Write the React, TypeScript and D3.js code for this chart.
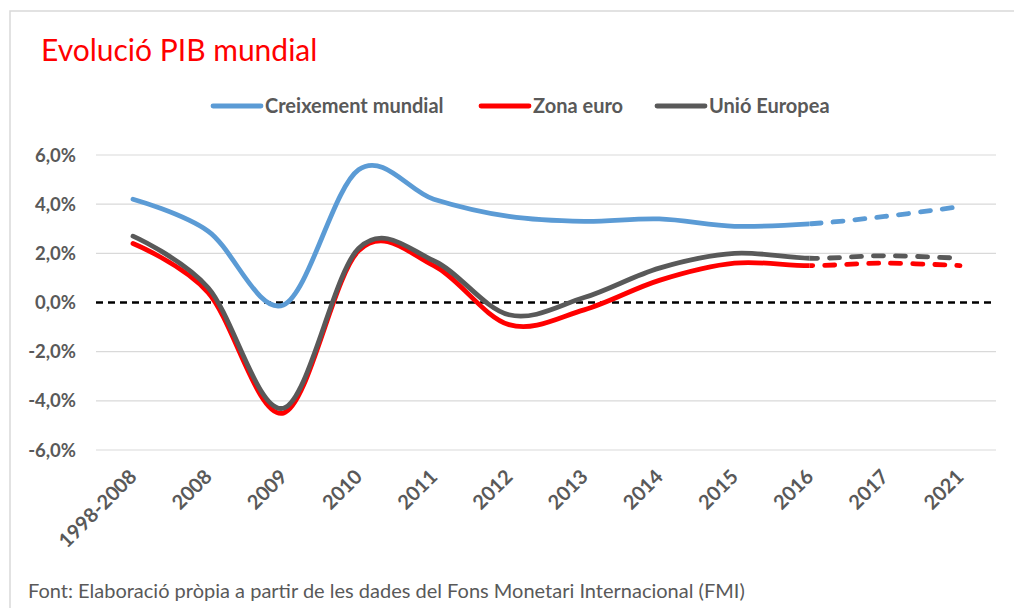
import { useEffect, useRef } from "react";
import * as d3 from "d3";

const categories = ["1998-2008", "2008", "2009", "2010", "2011", "2012", "2013", "2014", "2015", "2016", "2017", "2021"];
const mundial = [4.2, 2.9, -0.1, 5.4, 4.2, 3.5, 3.3, 3.4, 3.1, 3.2, 3.5, 3.9];
const zonaEuro = [2.4, 0.4, -4.5, 2.1, 1.5, -0.9, -0.3, 0.9, 1.6, 1.5, 1.6, 1.5];
const ue = [2.7, 0.6, -4.3, 2.2, 1.7, -0.5, 0.2, 1.4, 2.0, 1.8, 1.9, 1.8];
const yTicks = [-6, -4, -2, 0, 2, 4, 6];
const forecastFrom = "2016";

const series = [
  { name: "Creixement mundial", values: mundial, color: "#5B9BD5" },
  { name: "Zona euro", values: zonaEuro, color: "#FF0000" },
  { name: "Unió Europea", values: ue, color: "#595959" },
];

const W = 1014, H = 608;
const FONT = "Lato, 'Open Sans', sans-serif";

export default function App() {
  const ref = useRef<SVGSVGElement>(null);

  useEffect(() => {
    const svg = d3.select(ref.current);
    svg.selectAll("*").remove();

    // frame (right and bottom edges fall outside the picture)
    svg.append("rect").attr("x", 10).attr("y", 11).attr("width", 1030).attr("height", 640)
      .attr("fill", "#fff").attr("stroke", "#D9D9D9").attr("stroke-width", 1.5);

    svg.append("text").attr("x", 41).attr("y", 61).text("Evolució PIB mundial")
      .attr("font-family", FONT).attr("font-size", 30).attr("fill", "#FF0000");

    const x = d3.scalePoint().domain(categories).range([133, 960]);
    const y = d3.scaleLinear().domain([-6, 6]).range([450, 155]);
    const left = 96, right = 996;

    // grid
    svg.append("g").selectAll("line").data(yTicks.filter(v => v !== 0)).join("line")
      .attr("x1", left).attr("x2", right)
      .attr("y1", d => y(d)).attr("y2", d => y(d))
      .attr("stroke", "#D9D9D9").attr("stroke-width", 1.2);

    // y labels
    svg.append("g").selectAll("text").data(yTicks).join("text")
      .attr("x", 76).attr("y", d => y(d) + 6.5).attr("text-anchor", "end")
      .attr("font-family", FONT).attr("font-weight", "bold").attr("font-size", 18.5).attr("fill", "#595959")
      .text(d => d3.format(".1f")(d).replace(".", ",").replace("−", "-") + "%");

    // zero line
    svg.append("line").attr("x1", left).attr("x2", right).attr("y1", y(0)).attr("y2", y(0))
      .attr("stroke", "#000").attr("stroke-width", 2.5).attr("stroke-dasharray", "7 5");

    // x labels
    svg.append("g").selectAll("text").data(categories).join("text")
      .attr("transform", d => `translate(${(x(d) as number) + 5},${478}) rotate(-45)`)
      .attr("text-anchor", "end")
      .attr("font-family", FONT).attr("font-weight", "bold").attr("font-size", 20).attr("fill", "#595959")
      .text(d => d);

    // clip paths for solid / dashed parts
    const xs = x(forecastFrom) as number;
    const defs = svg.append("defs");
    defs.append("clipPath").attr("id", "solid").append("rect")
      .attr("x", 0).attr("y", 0).attr("width", xs).attr("height", H);
    defs.append("clipPath").attr("id", "dashed").append("rect")
      .attr("x", xs).attr("y", 0).attr("width", W - xs).attr("height", H);

    const line = d3.line<number>()
      .x((_, i) => x(categories[i]) as number)
      .y(d => y(d))
      .curve(d3.curveCardinal.tension(0));

    series.forEach(s => {
      svg.append("path").attr("d", line(s.values))
        .attr("fill", "none").attr("stroke", s.color).attr("stroke-width", 4.8)
        .attr("stroke-linecap", "round").attr("clip-path", "url(#solid)");
      svg.append("path").attr("d", line(s.values))
        .attr("fill", "none").attr("stroke", s.color).attr("stroke-width", 4.8)
        .attr("stroke-linecap", "round").attr("stroke-dasharray", "10 12")
        .attr("clip-path", "url(#dashed)");
    });

    // legend
    const lg = svg.append("g");
    const legendX = [213, 481, 657];
    series.forEach((s, i) => {
      lg.append("line").attr("x1", legendX[i]).attr("x2", legendX[i] + 48).attr("y1", 106).attr("y2", 106)
        .attr("stroke", s.color).attr("stroke-width", 4.8).attr("stroke-linecap", "round");
      lg.append("text").attr("x", legendX[i] + 52).attr("y", 113)
        .attr("font-family", FONT).attr("font-weight", "bold").attr("font-size", 20).attr("fill", "#595959")
        .text(s.name);
    });

    svg.append("text").attr("x", 28).attr("y", 598)
      .attr("font-family", FONT).attr("font-size", 20).attr("fill", "#595959")
      .text("Font: Elaboració pròpia a partir de les dades del Fons Monetari Internacional (FMI)");
  }, []);

  return (
    <svg ref={ref} width={W} height={H}
      style={{ position: "absolute", left: 0, top: 0, display: "block" }} />
  );
}
